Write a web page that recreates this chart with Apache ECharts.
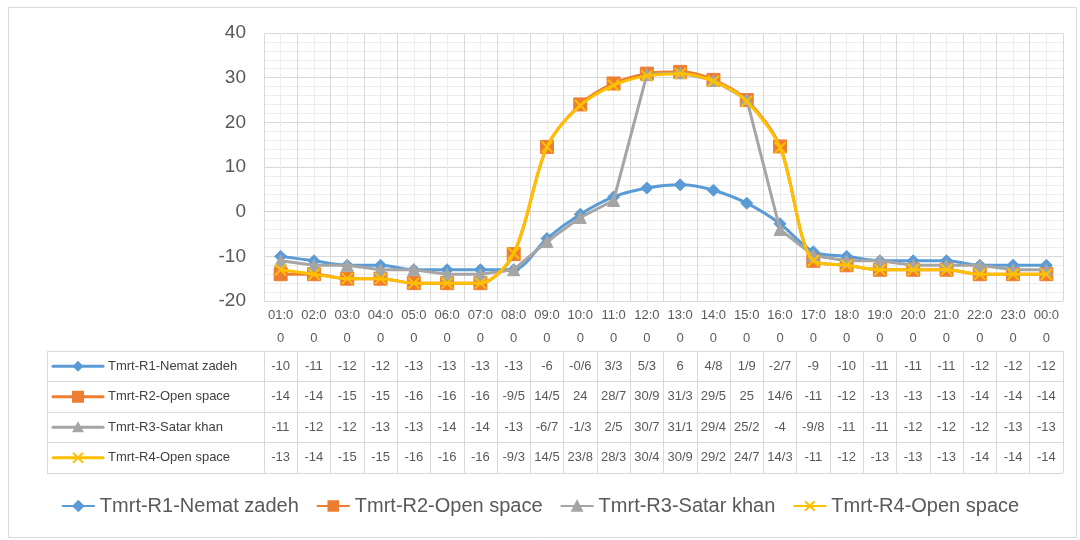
<!DOCTYPE html>
<html>
<head>
<meta charset="utf-8">
<script src="https://cdn.jsdelivr.net/npm/echarts@6/dist/echarts.min.js"></script>
<style>html,body{margin:0;padding:0;background:#fff}#c{width:1080px;height:540px}</style>
</head>
<body>
<div id="c"></div>
<script>
const hours = ['01:00','02:00','03:00','04:00','05:00','06:00','07:00','08:00','09:00','10:00','11:00','12:00','13:00','14:00','15:00','16:00','17:00','18:00','19:00','20:00','21:00','22:00','23:00','00:00'];
const seriesNames = ['Tmrt-R1-Nemat zadeh','Tmrt-R2-Open space','Tmrt-R3-Satar khan','Tmrt-R4-Open space'];
const r1 = [-10,-11,-12,-12,-13,-13,-13,-13,-6,-0.6,3.3,5.3,6,4.8,1.9,-2.7,-9,-10,-11,-11,-11,-12,-12,-12];
const r2 = [-14,-14,-15,-15,-16,-16,-16,-9.5,14.5,24,28.7,30.9,31.3,29.5,25,14.6,-11,-12,-13,-13,-13,-14,-14,-14];
const r3 = [-11,-12,-12,-13,-13,-14,-14,-13,-6.7,-1.3,2.5,30.7,31.1,29.4,25.2,-4,-9.8,-11,-11,-12,-12,-12,-13,-13];
const r4 = [-13,-14,-15,-15,-16,-16,-16,-9.3,14.5,23.8,28.3,30.4,30.9,29.2,24.7,14.3,-11,-12,-13,-13,-13,-14,-14,-14];
const yTicks = {min: -20, max: 40, interval: 10};

const allSeries = [r1, r2, r3, r4];
const colors = ['#5b9bd5', '#ed7d31', '#a5a5a5', '#ffc000'];
const FONT = '"Liberation Sans", "Open Sans", sans-serif';
const fmt = v => String(v).replace('.', '/');

const cells = [], cellTexts = [];
allSeries.forEach((arr, s) => arr.forEach((v, i) => { cells.push([i, s]); cellTexts.push(fmt(v)); }));

const xPath = 'path://M0,0 L10,10 M10,0 L0,10';
const symbols = ['diamond', 'rect', 'triangle', xPath];
const symSizes = [12, 13, 12, 11];
const smooths = [0.3, 0.3, false, 0.3];

const chart = echarts.init(document.getElementById('c'), null, {renderer: 'canvas'});

const lineSeries = allSeries.map((arr, s) => ({
  name: seriesNames[s], type: 'line', xAxisIndex: 0, yAxisIndex: 0, data: arr,
  smooth: smooths[s], symbol: symbols[s], symbolSize: symSizes[s], showSymbol: true,
  lineStyle: {color: colors[s], width: 3},
  itemStyle: {color: colors[s], borderColor: colors[s], borderWidth: s === 3 ? 2 : 1},
  z: 3 + s, animation: false
}));

function drawMarker(s, cx, cy) {
  const c = colors[s];
  if (s === 0) return {type: 'polygon', shape: {points: [[cx, cy - 5.5], [cx + 5.5, cy], [cx, cy + 5.5], [cx - 5.5, cy]]}, style: {fill: c}};
  if (s === 1) return {type: 'rect', shape: {x: cx - 6, y: cy - 6, width: 12, height: 12}, style: {fill: c}};
  if (s === 2) return {type: 'polygon', shape: {points: [[cx, cy - 6], [cx + 6, cy + 5], [cx - 6, cy + 5]]}, style: {fill: c}};
  return {type: 'group', children: [
    {type: 'line', shape: {x1: cx - 5, y1: cy - 5, x2: cx + 5, y2: cy + 5}, style: {stroke: c, lineWidth: 2}},
    {type: 'line', shape: {x1: cx + 5, y1: cy - 5, x2: cx - 5, y2: cy + 5}, style: {stroke: c, lineWidth: 2}}
  ]};
}

const option = {
  backgroundColor: '#fff',
  animation: false,
  graphic: [{type: 'rect', left: 6, top: 5, z: -10, shape: {width: 1068, height: 530}, style: {fill: 'none', stroke: '#d9d9d9', lineWidth: 1}}],
  legend: {
    data: seriesNames, bottom: 19, left: 'center', itemWidth: 33, itemHeight: 12, itemGap: 17,
    textStyle: {fontSize: 20, color: '#595959', fontFamily: FONT}
  },
  grid: [
    {left: 264, right: 17, top: 33, height: 268},
    {left: 264, right: 17, top: 351, height: 122},
    {left: 47, width: 217, top: 351, height: 122}
  ],
  xAxis: [
    {type: 'category', gridIndex: 0, data: hours, boundaryGap: true,
     axisLine: {lineStyle: {color: '#d0d0d0'}},
     axisTick: {show: true, interval: 0, length: 50, lineStyle: {color: '#d9d9d9'}},
     axisLabel: {interval: 0, margin: 3, fontSize: 13, lineHeight: 23, color: '#595959', fontFamily: FONT,
       formatter: v => v.slice(0, 4) + '\n' + v.slice(4)},
     splitLine: {show: true, interval: 0, lineStyle: {color: '#d9d9d9'}}},
    {type: 'value', gridIndex: 0, position: 'top', min: 0, max: 24, interval: 1,
     axisLine: {show: false}, axisTick: {show: false}, axisLabel: {show: false}, splitLine: {show: false},
     minorTick: {show: true, splitNumber: 2, length: 0}, minorSplitLine: {show: true, lineStyle: {color: '#ededed'}}},
    {type: 'category', gridIndex: 1, data: hours, boundaryGap: true,
     axisLine: {show: false}, axisTick: {show: false}, axisLabel: {show: false},
     splitLine: {show: true, interval: 0, lineStyle: {color: '#d9d9d9'}}},
    {type: 'category', gridIndex: 2, data: [''], boundaryGap: true,
     axisLine: {show: false}, axisTick: {show: false}, axisLabel: {show: false},
     splitLine: {show: true, interval: 0, lineStyle: {color: '#d9d9d9'}}}
  ],
  yAxis: [
    {type: 'value', gridIndex: 0, min: yTicks.min, max: yTicks.max, interval: yTicks.interval,
     axisLine: {show: false}, axisTick: {show: false},
     axisLabel: {fontSize: 19, color: '#595959', margin: 18, fontFamily: FONT},
     splitLine: {lineStyle: {color: '#d9d9d9'}},
     minorTick: {show: true, splitNumber: 5, length: 0}, minorSplitLine: {show: true, lineStyle: {color: '#ededed'}}},
    {type: 'category', gridIndex: 1, data: seriesNames, inverse: true, boundaryGap: true,
     axisLine: {show: false}, axisTick: {show: false}, axisLabel: {show: false},
     splitLine: {show: true, interval: 0, lineStyle: {color: '#d9d9d9'}}},
    {type: 'category', gridIndex: 2, data: seriesNames, inverse: true, boundaryGap: true,
     axisLine: {show: false}, axisTick: {show: false}, axisLabel: {show: false},
     splitLine: {show: true, interval: 0, lineStyle: {color: '#d9d9d9'}}}
  ],
  series: lineSeries.concat([
    {type: 'custom', xAxisIndex: 2, yAxisIndex: 1, data: cells, silent: true,
     renderItem: (params, api) => {
       const p = api.coord([api.value(0), api.value(1)]);
       return {type: 'text', x: p[0], y: p[1], style: {text: cellTexts[params.dataIndex], fill: '#595959',
         font: '13px ' + FONT, align: 'center', verticalAlign: 'middle'}};
     }},
    {type: 'custom', xAxisIndex: 3, yAxisIndex: 2, data: seriesNames.map((n, s) => [0, s]), silent: true,
     renderItem: (params, api) => {
       const s = api.value(1);
       const p = api.coord([0, s]);
       const sz = api.size([1, 1]);
       const left = p[0] - sz[0] / 2;
       const cy = p[1];
       return {type: 'group', children: [
         {type: 'line', shape: {x1: left + 6, y1: cy, x2: left + 56, y2: cy}, style: {stroke: colors[s], lineWidth: 3, lineCap: 'round'}},
         drawMarker(s, left + 31, cy),
         {type: 'text', x: left + 61, y: cy, style: {text: seriesNames[s], fill: '#404040', font: '13px ' + FONT, align: 'left', verticalAlign: 'middle'}}
       ]};
     }}
  ])
};
chart.setOption(option);
</script>
</body>
</html>
